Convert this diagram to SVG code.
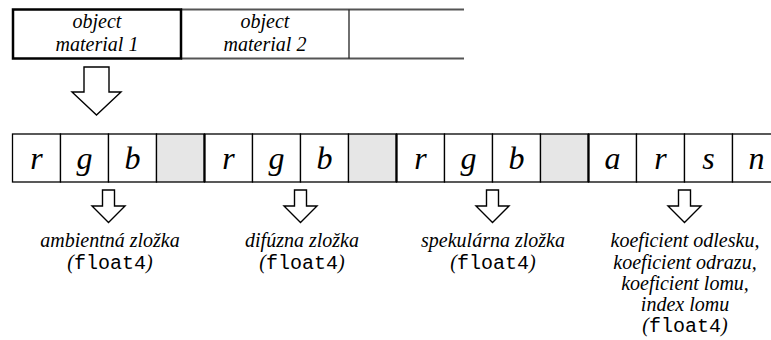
<svg xmlns="http://www.w3.org/2000/svg" width="771" height="340" viewBox="0 0 771 340">
<rect width="771" height="340" fill="#fff"/>
<g id="top-row">
<line x1="181" y1="9.5" x2="464" y2="9.5" stroke="#555" stroke-width="2"/>
<line x1="181" y1="58.5" x2="464" y2="58.5" stroke="#555" stroke-width="2"/>
<line x1="349" y1="9.5" x2="349" y2="58.5" stroke="#222" stroke-width="1.3"/>
</g>
<g id="material1">
<rect x="13" y="9.5" width="168" height="49" fill="none" stroke="#000" stroke-width="2.5"/>
<text font-family="Liberation Serif" font-style="italic" font-size="20" text-anchor="middle" x="97" y="28">object</text>
<text font-family="Liberation Serif" font-style="italic" font-size="20" text-anchor="middle" x="97" y="51">material 1</text>
</g>
<g id="material2">
<text font-family="Liberation Serif" font-style="italic" font-size="20" text-anchor="middle" x="265" y="28">object</text>
<text font-family="Liberation Serif" font-style="italic" font-size="20" text-anchor="middle" x="265" y="51">material 2</text>
</g>
<g id="cells" stroke="#000" stroke-width="1.3">
<rect fill="#fff" x="12.5" y="134" width="48" height="48"/>
<rect fill="#fff" x="60.5" y="134" width="48" height="48"/>
<rect fill="#fff" x="108.5" y="134" width="48" height="48"/>
<rect fill="#e6e6e6" x="156.5" y="134" width="48" height="48"/>
<rect fill="#fff" x="204.5" y="134" width="48" height="48"/>
<rect fill="#fff" x="252.5" y="134" width="48" height="48"/>
<rect fill="#fff" x="300.5" y="134" width="48" height="48"/>
<rect fill="#e6e6e6" x="348.5" y="134" width="48" height="48"/>
<rect fill="#fff" x="396.5" y="134" width="48" height="48"/>
<rect fill="#fff" x="444.5" y="134" width="48" height="48"/>
<rect fill="#fff" x="492.5" y="134" width="48" height="48"/>
<rect fill="#e6e6e6" x="540.5" y="134" width="48" height="48"/>
<rect fill="#fff" x="588.5" y="134" width="48" height="48"/>
<rect fill="#fff" x="636.5" y="134" width="48" height="48"/>
<rect fill="#fff" x="684.5" y="134" width="48" height="48"/>
<rect fill="#fff" x="732.5" y="134" width="48" height="48"/>
<line x1="204.5" y1="134" x2="204.5" y2="182" stroke-width="2.2"/>
<line x1="396.5" y1="134" x2="396.5" y2="182" stroke-width="2.2"/>
<line x1="588.5" y1="134" x2="588.5" y2="182" stroke-width="2.2"/>
</g>
<g id="cell-letters">
<text font-family="Liberation Serif" font-style="italic" font-size="32" text-anchor="middle" x="36.5" y="169">r</text>
<text font-family="Liberation Serif" font-style="italic" font-size="32" text-anchor="middle" x="84.5" y="169">g</text>
<text font-family="Liberation Serif" font-style="italic" font-size="32" text-anchor="middle" x="132.5" y="169">b</text>
<text font-family="Liberation Serif" font-style="italic" font-size="32" text-anchor="middle" x="228.5" y="169">r</text>
<text font-family="Liberation Serif" font-style="italic" font-size="32" text-anchor="middle" x="276.5" y="169">g</text>
<text font-family="Liberation Serif" font-style="italic" font-size="32" text-anchor="middle" x="324.5" y="169">b</text>
<text font-family="Liberation Serif" font-style="italic" font-size="32" text-anchor="middle" x="420.5" y="169">r</text>
<text font-family="Liberation Serif" font-style="italic" font-size="32" text-anchor="middle" x="468.5" y="169">g</text>
<text font-family="Liberation Serif" font-style="italic" font-size="32" text-anchor="middle" x="516.5" y="169">b</text>
<text font-family="Liberation Serif" font-style="italic" font-size="32" text-anchor="middle" x="612.5" y="169">a</text>
<text font-family="Liberation Serif" font-style="italic" font-size="32" text-anchor="middle" x="660.5" y="169">r</text>
<text font-family="Liberation Serif" font-style="italic" font-size="32" text-anchor="middle" x="708.5" y="169">s</text>
<text font-family="Liberation Serif" font-style="italic" font-size="32" text-anchor="middle" x="756.5" y="169">n</text>
</g>
<g id="label-ambient">
<text font-family="Liberation Serif" font-style="italic" font-size="20" text-anchor="middle" x="110" y="247">ambientná zložka</text>
<text font-family="Liberation Serif" font-style="italic" font-size="20" text-anchor="middle" x="110" y="269">(<tspan font-family="Liberation Mono" font-style="normal">float4</tspan>)</text>
</g>
<g id="label-diffuse">
<text font-family="Liberation Serif" font-style="italic" font-size="20" text-anchor="middle" x="302" y="247">difúzna zložka</text>
<text font-family="Liberation Serif" font-style="italic" font-size="20" text-anchor="middle" x="302" y="269">(<tspan font-family="Liberation Mono" font-style="normal">float4</tspan>)</text>
</g>
<g id="label-specular">
<text font-family="Liberation Serif" font-style="italic" font-size="20" text-anchor="middle" x="493" y="247">spekulárna zložka</text>
<text font-family="Liberation Serif" font-style="italic" font-size="20" text-anchor="middle" x="493" y="269">(<tspan font-family="Liberation Mono" font-style="normal">float4</tspan>)</text>
</g>
<g id="label-coef">
<text font-family="Liberation Serif" font-style="italic" font-size="20" text-anchor="middle" x="685" y="247">koeficient odlesku,</text>
<text font-family="Liberation Serif" font-style="italic" font-size="20" text-anchor="middle" x="685" y="268.5">koeficient odrazu,</text>
<text font-family="Liberation Serif" font-style="italic" font-size="20" text-anchor="middle" x="685" y="290">koeficient lomu,</text>
<text font-family="Liberation Serif" font-style="italic" font-size="20" text-anchor="middle" x="685" y="311">index lomu</text>
<text font-family="Liberation Serif" font-style="italic" font-size="20" text-anchor="middle" x="685" y="332">(<tspan font-family="Liberation Mono" font-style="normal">float4</tspan>)</text>
</g>
<g id="connectors" fill="#fff" stroke="#000" stroke-width="1.4">
<polygon points="84,67 109,67 109,92 121,92 96.5,115 72,92 84,92"/>
<polygon points="102.5,190 114.5,190 114.5,206 125,206 108.5,222.5 92,206 102.5,206"/>
<polygon points="294.5,190 306.5,190 306.5,206 317,206 300.5,222.5 284,206 294.5,206"/>
<polygon points="486.5,190 498.5,190 498.5,206 509,206 492.5,222.5 476,206 486.5,206"/>
<polygon points="678.5,190 690.5,190 690.5,206 701,206 684.5,222.5 668,206 678.5,206"/>
</g>
</svg>
